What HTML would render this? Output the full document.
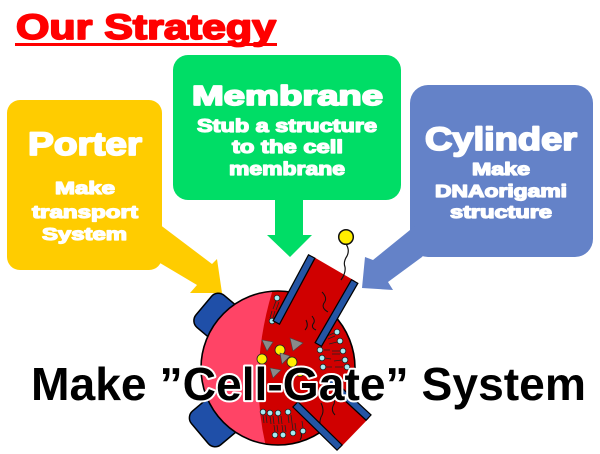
<!DOCTYPE html>
<html><head><meta charset="utf-8"><style>
html,body{margin:0;padding:0;background:#fff;}
svg{display:block;}
text{font-family:"Liberation Sans",Arial,sans-serif;font-weight:bold;}
</style></head><body>
<svg width="600" height="454" viewBox="0 0 600 454" xmlns="http://www.w3.org/2000/svg">
<rect width="600" height="454" fill="#fff"/>
<!-- Title -->
<text x="16" y="39" font-size="35" fill="#ff0000" stroke="#ff0000" stroke-width="1.8" stroke-linejoin="round" textLength="260" lengthAdjust="spacingAndGlyphs">Our Strategy</text>
<rect x="15" y="43" width="262" height="3" fill="#ff0000"/>

<!-- Yellow callout -->
<rect x="7" y="100" width="155" height="170" rx="13" fill="#ffcc00"/>
<polygon points="155,221 163,227 212,264 217,259 222,293 190,293 197,285 160,263 150,256" fill="#ffcc00"/>
<g fill="#fff" stroke="#fff" stroke-linejoin="round">
<text x="28" y="155" font-size="32" stroke-width="1.8" textLength="114" lengthAdjust="spacingAndGlyphs">Porter</text>
<text x="55" y="194" font-size="17.5" stroke-width="1.3" textLength="60" lengthAdjust="spacingAndGlyphs">Make</text>
<text x="32" y="218" font-size="17.5" stroke-width="1.3" textLength="106" lengthAdjust="spacingAndGlyphs">transport</text>
<text x="42" y="240" font-size="17.5" stroke-width="1.3" textLength="85" lengthAdjust="spacingAndGlyphs">System</text>
</g>

<!-- Green callout -->
<rect x="173" y="55" width="228" height="145" rx="15" fill="#00dd66"/>
<polygon points="275,195 303,195 303,235 312,235 290,257 267,235 275,235" fill="#00dd66"/>
<g fill="#fff" stroke="#fff" stroke-linejoin="round">
<text x="192" y="105" font-size="28" stroke-width="1.8" textLength="191" lengthAdjust="spacingAndGlyphs">Membrane</text>
<text x="197" y="132" font-size="18.5" stroke-width="1.3" textLength="180" lengthAdjust="spacingAndGlyphs">Stub a structure</text>
<text x="232" y="153" font-size="18.5" stroke-width="1.3" textLength="111" lengthAdjust="spacingAndGlyphs">to the cell</text>
<text x="229" y="175" font-size="18.5" stroke-width="1.3" textLength="116" lengthAdjust="spacingAndGlyphs">membrane</text>
</g>

<!-- Blue callout -->
<rect x="410" y="85" width="183" height="172" rx="18" fill="#6482c8"/>
<polygon points="416,225 410,230 373,260 365,257 362,288 393,290 388,282 422,257 428,250" fill="#6482c8"/>
<g fill="#fff" stroke="#fff" stroke-linejoin="round">
<text x="425" y="150" font-size="32" stroke-width="1.8" textLength="152" lengthAdjust="spacingAndGlyphs">Cylinder</text>
<text x="472" y="175" font-size="17.5" stroke-width="1.3" textLength="58" lengthAdjust="spacingAndGlyphs">Make</text>
<text x="435" y="197" font-size="17.5" stroke-width="1.3" textLength="132" lengthAdjust="spacingAndGlyphs">DNAorigami</text>
<text x="450" y="218" font-size="17.5" stroke-width="1.3" textLength="102" lengthAdjust="spacingAndGlyphs">structure</text>
</g>

<!-- Cell -->
<defs><clipPath id="cc"><circle cx="278" cy="368" r="77"/></clipPath></defs>
<g stroke="#000" stroke-width="1.5" fill="#1f4fa8">
<g transform="translate(278,368) rotate(220)"><rect x="50" y="-21" width="47" height="42" rx="9"/></g>
<g transform="translate(278,368) rotate(140)"><rect x="50" y="-22" width="52" height="44" rx="9"/></g>
</g>
<circle cx="278" cy="368" r="77" fill="#ff4466"/>
<path d="M273,289 Q248,370 266,447 L360,447 L360,289 Z" fill="#d00000" clip-path="url(#cc)"/>
<circle cx="278" cy="368" r="77" fill="none" stroke="#000" stroke-width="1.6"/>
<polygon points="312,256 355,281 318,345 276,323" fill="#d00000"/>
<polygon points="295,404 328,380 369,418 340,448" fill="#d00000"/>

<!-- squiggles -->
<g fill="none" stroke="#111" stroke-width="1">
<path d="M322,292 q6,6 2,11 q-3,5 4,9"/>
<path d="M312,316 q4,5 1,8 q-2,4 3,6"/>
<path d="M306,320 q3,6 -1,10"/>
<path d="M321,403 q4,8 0,14 q-3,8 2,16"/>
<path d="M333,396 q3,6 0,10 q-2,5 2,9"/>
<path d="M300,430 q3,6 0,10"/>
</g>

<!-- lipids -->
<g stroke="#222" stroke-width="0.8">
<path d="M276,301 l-3,8 M279,302 l-3,8 M270,318 l2,-7 M273,318 l2,-7"/>
<path d="M334,333 l-7,3 M335,336 l-7,3 M337,342 l-8,2 M340,351 l-8,0 M340,354 l-8,0 M342,360 l-8,1 M343,367 l-8,0 M324,350 l6,0 M325,358 l6,1 M326,367 l6,0"/>
<path d="M263,415 l1,8 M266,415 l1,8 M270,416 l1,8 M273,416 l1,8 M278,416 l1,8 M281,416 l1,8 M288,415 l1,8 M291,415 l1,8"/>
<path d="M275,432 l-1,-7 M278,432 l-1,-7 M283,432 l-1,-7 M286,432 l-1,-7 M293,430 l-1,-7 M296,430 l-1,-7 M303,428 l-1,-7"/>
</g>
<g fill="#a6eaf2" stroke="#222" stroke-width="0.8">
<circle cx="277" cy="298" r="2.8"/><circle cx="272" cy="321" r="2.8"/>
<circle cx="337" cy="332" r="2.8"/><circle cx="340" cy="341" r="2.8"/><circle cx="320" cy="350" r="2.8"/><circle cx="343" cy="351" r="2.8"/><circle cx="322" cy="358" r="2.8"/><circle cx="345" cy="360" r="2.8"/><circle cx="323" cy="367" r="2.8"/><circle cx="347" cy="367" r="2.8"/>
<circle cx="263" cy="412" r="2.8"/><circle cx="270" cy="413" r="2.8"/><circle cx="278" cy="413" r="2.8"/><circle cx="288" cy="412" r="2.8"/>
<circle cx="275" cy="435" r="2.8"/><circle cx="283" cy="435" r="2.8"/><circle cx="293" cy="433" r="2.8"/><circle cx="303" cy="431" r="2.8"/>
</g>
<!-- yellow cargo + triangles -->
<g fill="#ffee00" stroke="#222" stroke-width="0.8">
<circle cx="280" cy="350" r="5"/><circle cx="262" cy="359" r="5"/><circle cx="292" cy="362" r="5"/><circle cx="300" cy="372" r="4.5"/>
</g>
<g fill="#8a8a8a" stroke="#444" stroke-width="0.6">
<polygon points="262,340 273,342 267,351"/>
<polygon points="290,338 303,343 293,351"/>
<polygon points="280,353 290,356 282,364"/>
<polygon points="270,368 281,370 273,378"/>
</g>

<!-- blue bars -->
<g stroke-linecap="butt">
<g stroke="#000" stroke-width="8.5">
<line x1="312" y1="256" x2="276" y2="323"/>
<line x1="355" y1="281" x2="318" y2="345"/>
<line x1="295" y1="404" x2="340" y2="448"/>
<line x1="328" y1="380" x2="369" y2="418"/>
</g>
<g stroke="#2455a4" stroke-width="6">
<line x1="311.4" y1="257" x2="276.6" y2="322"/>
<line x1="354.4" y1="282" x2="318.6" y2="344"/>
<line x1="295.8" y1="404.8" x2="339.2" y2="447.2"/>
<line x1="328.8" y1="380.8" x2="368.2" y2="417.2"/>
</g>
</g>

<!-- yellow ball with stem -->
<path d="M346,244 q4,6 1,12 q-4,6 -2,11 q1,6 -4,13" fill="none" stroke="#111" stroke-width="1.2"/>
<circle cx="346" cy="237" r="7.3" fill="#ffee00" stroke="#111" stroke-width="1.5"/>

<!-- bottom caption -->
<text x="31" y="400" font-size="46" fill="#000" stroke="#fff" stroke-width="4" stroke-linejoin="round" paint-order="stroke" textLength="555" lengthAdjust="spacingAndGlyphs">Make ”Cell-Gate” System</text>
</svg>
</body></html>
